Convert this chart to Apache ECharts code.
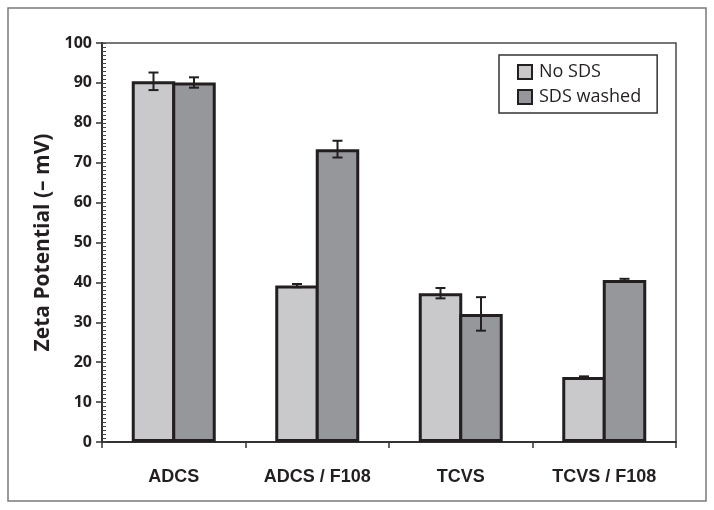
<!DOCTYPE html>
<html>
<head>
<meta charset="utf-8">
<script src="https://cdn.jsdelivr.net/npm/echarts@6/dist/echarts.min.js"></script>
<style>
    html, body { margin: 0; padding: 0; background: #fff; }
    #chart { width: 714px; height: 510px; }
</style>
</head>
<body>
<div id="chart"></div>
<script>
// 数据
var categories = ['ADCS', 'ADCS / F108', 'TCVS', 'TCVS / F108'];
var seriesNames = ['No SDS', 'SDS washed'];
var noSds = [90.4, 39.2, 37.3, 16.3];
var noSdsErr = [2.2, 0.4, 1.3, 0.15];
var sdsWashed = [90.1, 73.4, 32.1, 40.6];
var sdsWashedErr = [1.3, 2.1, 4.2, 0.3];
var yTicks = [0, 10, 20, 30, 40, 50, 60, 70, 80, 90, 100];

var COLOR_LIGHT = '#c9c9cb';
var COLOR_DARK = '#96979a';
var EDGE = '#231f20';
var BAR_WIDTH = 43.5;
var BAR_OVERLAP = 3; // 两根柱子共用一条边框

function errData(values, errs) {
    return values.map(function(v, i) {
        return [i, v - errs[i], v + errs[i]];
    });
}

function renderErr(offset) {
    return function(params, api) {
        var idx = api.value(0);
        var x = api.coord([idx, 0])[0] + offset;
        var lo = api.coord([idx, api.value(1)])[1];
        var hi = api.coord([idx, api.value(2)])[1];
        var style = {stroke: EDGE, lineWidth: 2};
        return {
            type: 'group',
            children: [
                {type: 'line', shape: {x1: x, y1: hi, x2: x, y2: lo}, style: style},
                {type: 'line', shape: {x1: x - 5, y1: hi, x2: x + 5, y2: hi}, style: style},
                {type: 'line', shape: {x1: x - 5, y1: lo, x2: x + 5, y2: lo}, style: style}
            ]
        };
    };
}

var chart = echarts.init(document.getElementById('chart'));
var half = (BAR_WIDTH - BAR_OVERLAP) / 2;

var option = {
    animation: false,
    backgroundColor: '#fff',
    graphic: [{
        type: 'rect',
        shape: {x: 8, y: 8, width: 698, height: 493},
        style: {fill: 'none', stroke: '#7a7a7a', lineWidth: 1.5},
        silent: true
    }],
    grid: {
        left: 102,
        right: 38,
        top: 43,
        bottom: 68,
        show: true,
        borderColor: '#4a4a4a',
        borderWidth: 1.5
    },
    legend: {
        data: seriesNames,
        orient: 'vertical',
        left: 499,
        top: 55,
        padding: [8, 16, 7, 18],
        itemGap: 7,
        itemWidth: 14,
        itemHeight: 14,
        icon: 'rect',
        borderColor: '#333',
        borderWidth: 1.5,
        itemStyle: {borderColor: EDGE, borderWidth: 2},
        textStyle: {fontFamily: 'Open Sans', fontSize: 18, color: '#231f20', padding: [0, 0, 0, 2]}
    },
    xAxis: {
        type: 'category',
        data: categories,
        axisLine: {lineStyle: {color: '#333', width: 2}},
        axisTick: {show: true, length: 6, lineStyle: {color: '#333', width: 1.5}},
        axisLabel: {
            interval: 0,
            margin: 26,
            fontFamily: 'Liberation Sans',
            fontWeight: 'bold',
            fontSize: 18,
            color: '#231f20'
        },
        splitLine: {show: false}
    },
    yAxis: [{
        type: 'value',
        min: 0,
        max: 100,
        interval: 10,
        name: 'Zeta Potential (– mV)',
        nameLocation: 'middle',
        nameGap: 47,
        nameTextStyle: {fontFamily: 'Open Sans', fontWeight: 'bold', fontSize: 21, color: '#231f20'},
        axisLine: {show: true, lineStyle: {color: '#333', width: 2}},
        axisTick: {show: true, length: 6, lineStyle: {color: '#333', width: 1.5}},
        axisLabel: {
            margin: 10,
            fontFamily: 'Open Sans',
            fontWeight: 'bold',
            fontSize: 16,
            color: '#231f20',
            customValues: yTicks
        },
        splitLine: {show: false}
    }, {
        type: 'value',
        min: 0,
        max: 100,
        interval: 1,
        position: 'left',
        axisLine: {show: false},
        axisTick: {show: true, inside: true, length: 4, lineStyle: {color: '#444', width: 1}},
        axisLabel: {show: false},
        splitLine: {show: false}
    }],
    series: [{
        name: seriesNames[0],
        type: 'bar',
        data: noSds,
        barWidth: BAR_WIDTH,
        barGap: (-BAR_OVERLAP / BAR_WIDTH * 100) + '%',
        itemStyle: {color: COLOR_LIGHT, borderColor: EDGE, borderWidth: 3}
    }, {
        name: seriesNames[1],
        type: 'bar',
        data: sdsWashed,
        barWidth: BAR_WIDTH,
        barGap: (-BAR_OVERLAP / BAR_WIDTH * 100) + '%',
        itemStyle: {color: COLOR_DARK, borderColor: EDGE, borderWidth: 3}
    }, {
        type: 'custom',
        renderItem: renderErr(-half),
        data: errData(noSds, noSdsErr),
        z: 10,
        silent: true
    }, {
        type: 'custom',
        renderItem: renderErr(half),
        data: errData(sdsWashed, sdsWashedErr),
        z: 10,
        silent: true
    }]
};

chart.setOption(option);
</script>
</body>
</html>
